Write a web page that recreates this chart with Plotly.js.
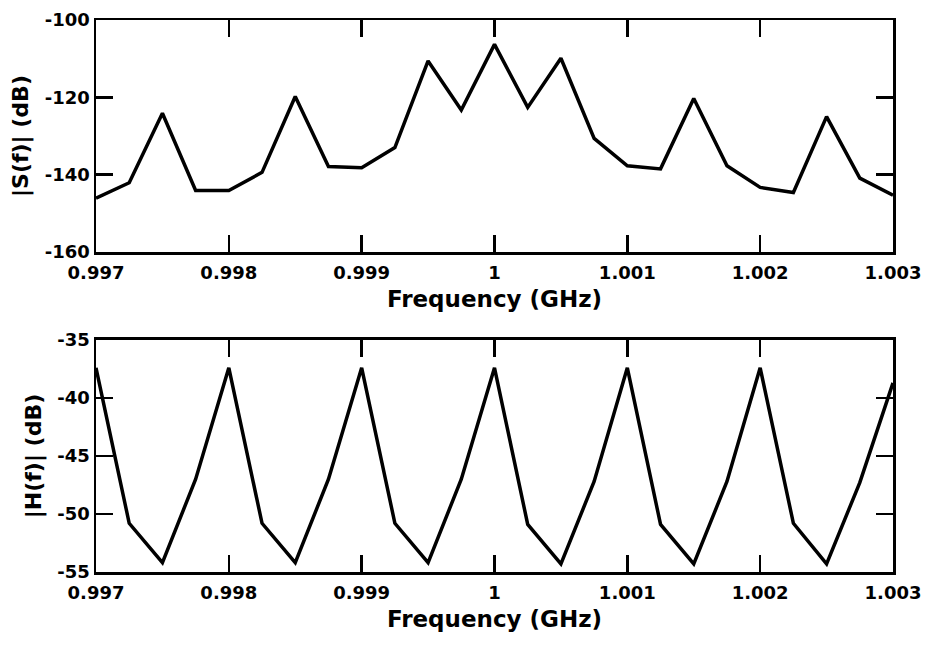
<!DOCTYPE html>
<html>
<head>
<meta charset="utf-8">
<script src="https://cdn.plot.ly/plotly-3.0.1.min.js"></script>
<style>html,body{margin:0;padding:0;background:#fff;}#chart{width:926px;height:645px;}</style>
</head>
<body>
<div id="chart"></div>
<script>
// Frequency samples (GHz)
const freq = [0.997, 0.99725, 0.9975, 0.99775, 0.998, 0.99825, 0.9985, 0.99875, 0.999, 0.99925, 0.9995, 0.99975,
              1.0, 1.00025, 1.0005, 1.00075, 1.001, 1.00125, 1.0015, 1.00175, 1.002, 1.00225, 1.0025, 1.00275, 1.003];
// |S(f)| (dB)
const sMag = [-146.1, -142.1, -124.1, -144.1, -144.1, -139.4, -119.8, -137.9, -138.2, -133.0, -110.6, -123.3,
              -106.3, -122.6, -109.9, -130.6, -137.7, -138.5, -120.3, -137.7, -143.3, -144.6, -125.0, -140.9, -145.3];
// |H(f)| (dB)
const hMag = [-37.4, -50.8, -54.2, -47.0, -37.4, -50.8, -54.2, -47.0, -37.4, -50.8, -54.2, -47.0,
              -37.4, -50.9, -54.3, -47.2, -37.4, -50.9, -54.3, -47.2, -37.4, -50.8, -54.3, -47.3, -38.7];
// Tick labels
const xTickVals = [0.997, 0.998, 0.999, 1.0, 1.001, 1.002, 1.003];
const xTickText = ['0.997', '0.998', '0.999', '1', '1.001', '1.002', '1.003'];
const sTickVals = [-100, -120, -140, -160];
const hTickVals = [-35, -40, -45, -50, -55];
const xTitle = 'Frequency (GHz)';
const sTitle = '|S(f)| (dB)';
const hTitle = '|H(f)| (dB)';

const FONT = 'DejaVu Sans, Liberation Sans, Arial, sans-serif';
const tickFont = {family: FONT, size: 18, color: '#000', weight: 'bold'};
const titleFont = {family: FONT, size: 23, color: '#000', weight: 'bold'};
const yTitleFont = {family: FONT, size: 22, color: '#000', weight: 'bold'};

function xAxis(anchor) {
  return {
    anchor: anchor, range: [0.997, 1.003],
    tickvals: xTickVals, ticktext: xTickText,
    showline: true, linecolor: '#000', linewidth: 2.5, mirror: 'allticks',
    ticks: 'inside', ticklen: 17, tickwidth: 2.5, tickcolor: '#000',
    ticklabelstandoff: 3,
    showgrid: false, zeroline: false, tickfont: tickFont,
    title: {text: xTitle, font: titleFont, standoff: 9}
  };
}
function yAxis(anchor, domain, range, vals, title) {
  return {
    anchor: anchor, domain: domain, range: range,
    tickvals: vals, ticktext: vals.map(v => String(v)),
    showline: true, linecolor: '#000', linewidth: 2.5, mirror: 'allticks',
    ticks: 'inside', ticklen: 17, tickwidth: 2.5, tickcolor: '#000',
    showgrid: false, zeroline: false, tickfont: tickFont,
    title: {text: title, font: yTitleFont, standoff: 10}
  };
}

const traces = [
  {x: freq, y: sMag, xaxis: 'x', yaxis: 'y', mode: 'lines', line: {color: '#000', width: 3.5}, hoverinfo: 'skip'},
  {x: freq, y: hMag, xaxis: 'x2', yaxis: 'y2', mode: 'lines', line: {color: '#000', width: 3.5}, hoverinfo: 'skip'}
];

const layout = {
  width: 926, height: 645,
  margin: {l: 96, r: 33, t: 20, b: 73},
  paper_bgcolor: '#fff', plot_bgcolor: '#fff',
  showlegend: false,
  xaxis: xAxis('y'),
  yaxis: yAxis('x', [0.5797, 1], [-160, -100], sTickVals, sTitle),
  xaxis2: xAxis('y2'),
  yaxis2: yAxis('x2', [0, 0.4203], [-55, -35], hTickVals, hTitle)
};

Plotly.newPlot('chart', traces, layout, {displayModeBar: false, staticPlot: true});
</script>
</body>
</html>
